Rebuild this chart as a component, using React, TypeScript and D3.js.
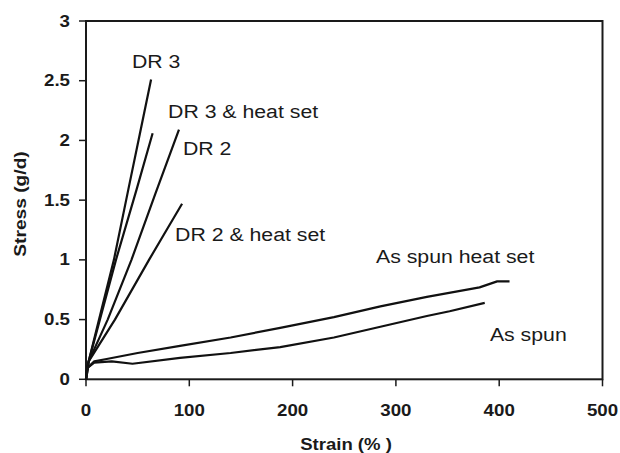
import React from "react";
import * as d3 from "d3";

// stress-strain curves, [strain %, stress g/d]
const dr3: [number, number][] = [
  [0, 0], [1, 0.08], [2.6, 0.15], [12.6, 0.5], [27, 1.0], [41, 1.59],
  [52, 2.05], [63, 2.51],
];
const dr3Heat: [number, number][] = [
  [0, 0], [1, 0.08], [2.6, 0.15], [13.5, 0.5], [29, 1.0], [49, 1.59],
  [64.5, 2.06],
];
const dr2: [number, number][] = [
  [0, 0], [1, 0.08], [2.6, 0.15], [21, 0.5], [44, 1.0], [67, 1.55],
  [90, 2.09],
];
const dr2Heat: [number, number][] = [
  [0, 0], [1, 0.08], [2.6, 0.15], [28, 0.5], [61, 1.0], [78, 1.25],
  [93, 1.47],
];
const asSpunHeat: [number, number][] = [
  [0, 0], [2, 0.1], [8, 0.15], [20, 0.17], [50, 0.22], [91, 0.28], [140, 0.35],
  [188, 0.43], [240, 0.52], [285, 0.61], [330, 0.69], [381, 0.77], [398, 0.82],
  [410, 0.82],
];
const asSpun: [number, number][] = [
  [0, 0], [2, 0.1], [8, 0.14], [25, 0.15], [45, 0.13], [91, 0.18], [140, 0.22],
  [188, 0.27], [240, 0.35], [285, 0.44], [330, 0.53], [352, 0.57], [386, 0.64],
];
const series = [dr3, dr3Heat, dr2, dr2Heat, asSpunHeat, asSpun];

// curve labels, anchored in data units (left edge, baseline)
const labelText = ["DR 3", "DR 3 & heat set", "DR 2", "DR 2 & heat set", "As spun heat set", "As spun"];
const labelStrain = [44.5, 79.4, 93.9, 86.2, 280.7, 391];
const labelStress = [2.61, 2.19, 1.877, 1.158, 0.974, 0.321];

const xTicks = [0, 100, 200, 300, 400, 500];
const yTicks = [0, 0.5, 1, 1.5, 2, 2.5, 3];

const W = 620;
const H = 453;
const font = "'Liberation Sans', Arial, sans-serif";

export default function App() {
  const x = d3.scaleLinear().domain([0, 500]).range([86, 602.5]);
  const y = d3.scaleLinear().domain([0, 3]).range([379.3, 21]);
  const line = d3
    .line<[number, number]>()
    .x((d) => x(d[0]))
    .y((d) => y(d[1]));

  const [x0, x1] = x.range();
  const [y0, y1] = y.range();

  return (
    <svg
      width={W}
      height={H}
      style={{ position: "absolute", left: 0, top: 0, background: "#fff" }}
    >
      {/* frame */}
      <rect x={x0} y={y1} width={x1 - x0} height={y0 - y1} fill="none" stroke="#1a1a1a" strokeWidth={2} />

      {/* y axis ticks */}
      {yTicks.map((t) => (
        <g key={"y" + t}>
          <line x1={x0 - 7} x2={x0} y1={y(t)} y2={y(t)} stroke="#1a1a1a" strokeWidth={1.5} />
          <text
            transform={`translate(70,${y(t) + 5.5}) scale(1.17,1)`}
            textAnchor="end"
            fontFamily={font}
            fontWeight="bold"
            fontSize={16}
            fill="#1a1a1a"
          >
            {t}
          </text>
        </g>
      ))}

      {/* x axis ticks */}
      {xTicks.map((t) => (
        <g key={"x" + t}>
          <line x1={x(t)} x2={x(t)} y1={y0} y2={y0 + 7} stroke="#1a1a1a" strokeWidth={1.5} />
          <text
            transform={`translate(${x(t)},416) scale(1.17,1)`}
            textAnchor="middle"
            fontFamily={font}
            fontWeight="bold"
            fontSize={16}
            fill="#1a1a1a"
          >
            {t}
          </text>
        </g>
      ))}

      {/* axis titles */}
      <text
        transform="translate(346,450) scale(1.16,1)"
        textAnchor="middle"
        fontFamily={font}
        fontWeight="bold"
        fontSize={16}
        fill="#1a1a1a"
      >
        Strain (% )
      </text>
      <text
        transform="translate(26,204) rotate(-90) scale(1.2,1)"
        textAnchor="middle"
        fontFamily={font}
        fontWeight="bold"
        fontSize={16}
        fill="#1a1a1a"
      >
        Stress (g/d)
      </text>

      {/* curves */}
      {series.map((s, i) => (
        <path
          key={i}
          d={line(s) || ""}
          fill="none"
          stroke="#111"
          strokeWidth={2.2}
          strokeLinejoin="round"
        />
      ))}

      {/* curve labels */}
      {labelText.map((t, i) => (
        <text
          key={t}
          transform={`translate(${x(labelStrain[i])},${y(labelStress[i])}) scale(1.12,1)`}
          fontFamily={font}
          fontSize={19}
          fill="#1a1a1a"
        >
          {t}
        </text>
      ))}
    </svg>
  );
}
